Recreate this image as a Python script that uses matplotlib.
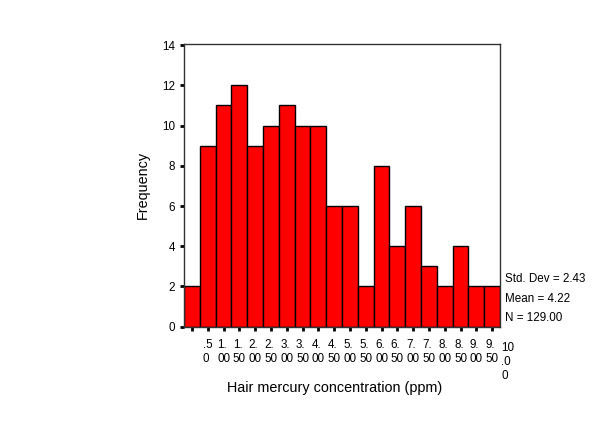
import matplotlib
matplotlib.use('Agg')
import matplotlib.pyplot as plt

plt.rcParams['font.family'] = ['Liberation Sans', 'DejaVu Sans']

# bin midpoints (ppm) and counts
mids = [0.0, 0.5, 1.0, 1.5, 2.0, 2.5, 3.0, 3.5, 4.0, 4.5,
        5.0, 5.5, 6.0, 6.5, 7.0, 7.5, 8.0, 8.5, 9.0, 9.5]
counts = [2, 9, 11, 12, 9, 10, 11, 10, 10, 6,
          6, 2, 8, 4, 6, 3, 2, 4, 2, 2]
stats = ['Std. Dev = 2.43', 'Mean = 4.22', 'N = 129.00']


def spss_label(v):
    s = '%.2f' % v
    if s.startswith('0'):
        s = s[1:]
    return '\n'.join(s[i:i + 2] for i in range(0, len(s), 2))


fig = plt.figure(figsize=(6, 4.33), dpi=100)
ax = fig.add_axes([0.3067, 0.2455, 0.5267, 0.6535])

ax.bar(mids, counts, width=0.5, color='#ff0000', edgecolor='black', linewidth=1)
ax.set_xlim(-0.25, 9.75)
ax.set_ylim(0, 14.07)

ax.set_yticks(range(0, 15, 2))
ax.set_xticks(mids)
ax.set_xticklabels([''] + [spss_label(v) for v in mids[1:]], multialignment='left',
                   linespacing=1.25)
ax.text(10.0, -0.75, spss_label(10.0), ha='center', va='top', fontsize=8.4,
        multialignment='left', linespacing=1.25, clip_on=False)

ax.tick_params(axis='both', labelsize=8.4, length=3, width=2, direction='out')
ax.tick_params(axis='x', pad=6)
for s in ax.spines.values():
    s.set_linewidth(1)
    s.set_color('#333333')

ax.set_ylabel('Frequency', fontsize=10.4, labelpad=9)
fig.text(335 / 600, 1 - 388 / 433, 'Hair mercury concentration (ppm)',
         fontsize=10.4, ha='center', va='center')

for i, t in enumerate(stats):
    fig.text(505 / 600, 1 - (279 + 19.5 * i) / 433, t, fontsize=8.4, va='center')

fig.savefig('out.png', dpi=100)
